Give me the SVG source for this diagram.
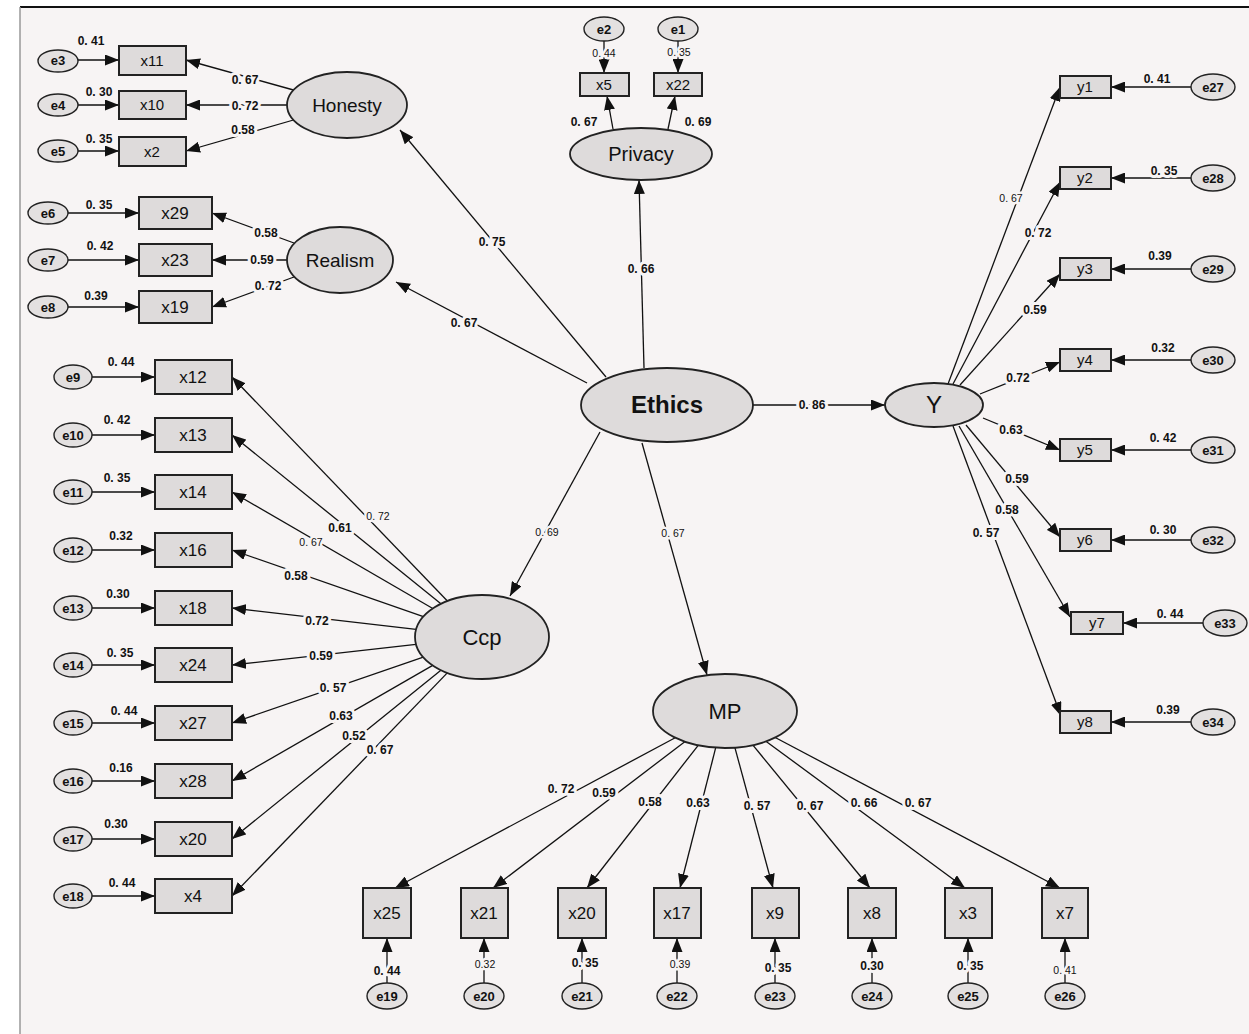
<svg xmlns="http://www.w3.org/2000/svg" width="1249" height="1034" viewBox="0 0 1249 1034">
<defs>
<marker id="ar" markerUnits="userSpaceOnUse" markerWidth="14" markerHeight="11" refX="14" refY="5.5" orient="auto">
<path d="M0,0 L14,5.5 L0,11 z" fill="#111"/>
</marker>
<style>
.lat{fill:#dedbdb;stroke:#222;stroke-width:1.8}
.obs{fill:#dedbdb;stroke:#222;stroke-width:2}
.err{fill:#e3e0e0;stroke:#222;stroke-width:1.4}
.c line{stroke:#111;stroke-width:1.3;marker-end:url(#ar)}
.t{font-family:"Liberation Sans",Arial,sans-serif;fill:#111;text-anchor:middle}
.lt{font-size:19px}
.ot{font-size:15px}
.et{font-size:13px;font-weight:bold}
.n{font-family:"Liberation Sans",Arial,sans-serif;font-size:12px;font-weight:bold;fill:#111;text-anchor:middle;stroke:#f7f4f4;stroke-width:6;stroke-linejoin:round;paint-order:stroke}
.s{font-size:10.5px;font-weight:normal;stroke-width:5}
</style>
</defs>
<rect x="0" y="0" width="1249" height="1034" fill="#ffffff"/>
<rect x="20" y="7" width="1229" height="1027" fill="#f7f4f4"/>
<line x1="20" y1="7" x2="1249" y2="7" stroke="#111" stroke-width="2"/>
<line x1="20" y1="7" x2="20" y2="1034" stroke="#999" stroke-width="1.5"/>

<g id="connectors" class="c">
<line x1="78" y1="60" x2="119" y2="60"/>
<line x1="78" y1="105" x2="119" y2="105"/>
<line x1="78" y1="151" x2="119" y2="151"/>
<line x1="293.5" y1="90" x2="186" y2="60"/>
<line x1="287" y1="105" x2="186" y2="105"/>
<line x1="293.5" y1="120" x2="186" y2="151"/>
<line x1="68" y1="213" x2="139" y2="213"/>
<line x1="68" y1="260" x2="139" y2="260"/>
<line x1="68" y1="307" x2="139" y2="307"/>
<line x1="294" y1="243" x2="212" y2="213"/>
<line x1="287" y1="260" x2="212" y2="260"/>
<line x1="294" y1="277" x2="212" y2="307"/>
<line x1="604" y1="41" x2="604" y2="73"/>
<line x1="678" y1="41" x2="678" y2="73"/>
<line x1="613" y1="129" x2="607" y2="96"/>
<line x1="668" y1="129" x2="675" y2="96"/>
<line x1="606" y1="377" x2="400" y2="130"/>
<line x1="587" y1="383" x2="396" y2="282"/>
<line x1="644" y1="368" x2="639" y2="180"/>
<line x1="600" y1="432" x2="510" y2="596"/>
<line x1="642" y1="443" x2="707" y2="675"/>
<line x1="753" y1="405" x2="885" y2="405"/>
<line x1="948" y1="384" x2="1060" y2="87"/>
<line x1="953" y1="384" x2="1060" y2="182"/>
<line x1="960" y1="385" x2="1060" y2="274"/>
<line x1="980" y1="394" x2="1060" y2="362"/>
<line x1="983" y1="418" x2="1060" y2="450"/>
<line x1="966" y1="425" x2="1060" y2="537"/>
<line x1="959" y1="426" x2="1070" y2="617"/>
<line x1="953" y1="426" x2="1061" y2="716"/>
<line x1="1191" y1="87" x2="1111" y2="87"/>
<line x1="1191" y1="178" x2="1111" y2="178"/>
<line x1="1191" y1="269" x2="1111" y2="269"/>
<line x1="1191" y1="360" x2="1111" y2="360"/>
<line x1="1191" y1="450" x2="1111" y2="450"/>
<line x1="1191" y1="540" x2="1111" y2="540"/>
<line x1="1203" y1="623" x2="1123" y2="623"/>
<line x1="1191" y1="722" x2="1111" y2="722"/>
<line x1="447.4" y1="601" x2="232" y2="377"/>
<line x1="440.9" y1="603.8" x2="232" y2="435"/>
<line x1="432.8" y1="608.5" x2="232" y2="492"/>
<line x1="423.4" y1="616.6" x2="232" y2="550"/>
<line x1="416.1" y1="629.4" x2="232" y2="608"/>
<line x1="416" y1="644.4" x2="232" y2="665"/>
<line x1="423.3" y1="657.2" x2="232" y2="723"/>
<line x1="432.7" y1="665.4" x2="232" y2="781"/>
<line x1="440.9" y1="670.2" x2="232" y2="839"/>
<line x1="447.3" y1="672.9" x2="232" y2="896"/>
<line x1="92" y1="377" x2="155" y2="377"/>
<line x1="92" y1="435" x2="155" y2="435"/>
<line x1="92" y1="492" x2="155" y2="492"/>
<line x1="92" y1="550" x2="155" y2="550"/>
<line x1="92" y1="608" x2="155" y2="608"/>
<line x1="92" y1="665" x2="155" y2="665"/>
<line x1="92" y1="723" x2="155" y2="723"/>
<line x1="92" y1="781" x2="155" y2="781"/>
<line x1="92" y1="839" x2="155" y2="839"/>
<line x1="92" y1="896" x2="155" y2="896"/>
<line x1="675.2" y1="737.7" x2="395" y2="888"/>
<line x1="684.8" y1="741.7" x2="493" y2="888"/>
<line x1="698.2" y1="745.3" x2="587" y2="888"/>
<line x1="715.7" y1="747.7" x2="680" y2="888"/>
<line x1="734.9" y1="747.6" x2="773" y2="888"/>
<line x1="752.9" y1="745.1" x2="870" y2="888"/>
<line x1="766.2" y1="741.4" x2="965" y2="888"/>
<line x1="775.2" y1="737.5" x2="1060" y2="888"/>
<line x1="387" y1="983" x2="387" y2="938"/>
<line x1="484" y1="983" x2="484" y2="938"/>
<line x1="582" y1="983" x2="582" y2="938"/>
<line x1="677" y1="983" x2="677" y2="938"/>
<line x1="775" y1="983" x2="775" y2="938"/>
<line x1="872" y1="983" x2="872" y2="938"/>
<line x1="968" y1="983" x2="968" y2="938"/>
<line x1="1065" y1="983" x2="1065" y2="938"/>
</g>

<g id="labels">
<text class="n" x="91" y="45">0. 41</text>
<text class="n" x="99" y="96">0. 30</text>
<text class="n" x="99" y="143">0. 35</text>
<text class="n" x="245" y="84">0. 67</text>
<text class="n" x="245" y="110">0. 72</text>
<text class="n" x="243" y="134">0.58</text>
<text class="n" x="99" y="209">0. 35</text>
<text class="n" x="100" y="250">0. 42</text>
<text class="n" x="96" y="300">0.39</text>
<text class="n" x="266" y="237">0.58</text>
<text class="n" x="262" y="264">0.59</text>
<text class="n" x="268" y="290">0. 72</text>
<text class="n s" x="604" y="57">0. 44</text>
<text class="n s" x="679" y="56">0. 35</text>
<text class="n" x="584" y="126">0. 67</text>
<text class="n" x="698" y="126">0. 69</text>
<text class="n" x="492" y="246">0. 75</text>
<text class="n" x="464" y="327">0. 67</text>
<text class="n" x="641" y="273">0. 66</text>
<text class="n s" x="547" y="536">0. 69</text>
<text class="n s" x="673" y="537">0. 67</text>
<text class="n" x="812" y="409">0. 86</text>
<text class="n s" x="1011" y="202">0. 67</text>
<text class="n" x="1038" y="237">0. 72</text>
<text class="n" x="1035" y="314">0.59</text>
<text class="n" x="1018" y="382">0.72</text>
<text class="n" x="1011" y="434">0.63</text>
<text class="n" x="1017" y="483">0.59</text>
<text class="n" x="1007" y="514">0.58</text>
<text class="n" x="986" y="537">0. 57</text>
<text class="n" x="1157" y="83">0. 41</text>
<text class="n" x="1164" y="175">0. 35</text>
<text class="n" x="1160" y="260">0.39</text>
<text class="n" x="1163" y="352">0.32</text>
<text class="n" x="1163" y="442">0. 42</text>
<text class="n" x="1163" y="534">0. 30</text>
<text class="n" x="1170" y="618">0. 44</text>
<text class="n" x="1168" y="714">0.39</text>
<text class="n" x="121" y="366">0. 44</text>
<text class="n" x="117" y="424">0. 42</text>
<text class="n" x="117" y="482">0. 35</text>
<text class="n" x="121" y="540">0.32</text>
<text class="n" x="118" y="598">0.30</text>
<text class="n" x="120" y="657">0. 35</text>
<text class="n" x="124" y="715">0. 44</text>
<text class="n" x="121" y="772">0.16</text>
<text class="n" x="116" y="828">0.30</text>
<text class="n" x="122" y="887">0. 44</text>
<text class="n s" x="378" y="520">0. 72</text>
<text class="n" x="340" y="532">0.61</text>
<text class="n s" x="311" y="546">0. 67</text>
<text class="n" x="296" y="580">0.58</text>
<text class="n" x="317" y="625">0.72</text>
<text class="n" x="321" y="660">0.59</text>
<text class="n" x="333" y="692">0. 57</text>
<text class="n" x="341" y="720">0.63</text>
<text class="n" x="354" y="740">0.52</text>
<text class="n" x="380" y="754">0. 67</text>
<text class="n" x="561" y="793">0. 72</text>
<text class="n" x="604" y="797">0.59</text>
<text class="n" x="650" y="806">0.58</text>
<text class="n" x="698" y="807">0.63</text>
<text class="n" x="757" y="810">0. 57</text>
<text class="n" x="810" y="810">0. 67</text>
<text class="n" x="864" y="807">0. 66</text>
<text class="n" x="918" y="807">0. 67</text>
<text class="n" x="387" y="975">0. 44</text>
<text class="n s" x="485" y="968">0.32</text>
<text class="n" x="585" y="967">0. 35</text>
<text class="n s" x="680" y="968">0.39</text>
<text class="n" x="778" y="972">0. 35</text>
<text class="n" x="872" y="970">0.30</text>
<text class="n" x="970" y="970">0. 35</text>
<text class="n s" x="1065" y="974">0. 41</text>
</g>

<g id="Honesty"><ellipse class="lat" cx="347" cy="105" rx="60" ry="33"/><text class="t lt" x="347" y="112">Honesty</text></g>
<g id="Realism"><ellipse class="lat" cx="340" cy="260" rx="53" ry="33"/><text class="t lt" x="340" y="267">Realism</text></g>
<g id="Privacy"><ellipse class="lat" cx="641" cy="154" rx="71" ry="26"/><text class="t" style="font-size:20px" x="641" y="161">Privacy</text></g>
<g id="Ethics"><ellipse class="lat" cx="667" cy="405" rx="86" ry="37"/><text class="t" style="font-size:24px;font-weight:bold" x="667" y="413">Ethics</text></g>
<g id="Y"><ellipse class="lat" cx="934" cy="405" rx="49" ry="22"/><text class="t" style="font-size:24px" x="934" y="413">Y</text></g>
<g id="Ccp"><ellipse class="lat" cx="482" cy="637" rx="67" ry="42"/><text class="t" style="font-size:22px" x="482" y="645">Ccp</text></g>
<g id="MP"><ellipse class="lat" cx="725" cy="711" rx="72" ry="37"/><text class="t" style="font-size:22px" x="725" y="719">MP</text></g>

<g id="x11"><rect class="obs" x="119" y="46" width="67" height="29"/><text class="t ot" x="152" y="66">x11</text></g>
<g id="x10"><rect class="obs" x="119" y="91" width="67" height="28"/><text class="t ot" x="152" y="110">x10</text></g>
<g id="x2"><rect class="obs" x="119" y="137" width="67" height="29"/><text class="t ot" x="152" y="157">x2</text></g>
<g id="x29"><rect class="obs" x="139" y="197" width="73" height="32"/><text class="t" style="font-size:17px" x="175" y="219">x29</text></g>
<g id="x23"><rect class="obs" x="139" y="244" width="73" height="32"/><text class="t" style="font-size:17px" x="175" y="266">x23</text></g>
<g id="x19"><rect class="obs" x="139" y="291" width="73" height="32"/><text class="t" style="font-size:17px" x="175" y="313">x19</text></g>
<g id="x5"><rect class="obs" x="580" y="73" width="49" height="23"/><text class="t ot" x="604" y="90">x5</text></g>
<g id="x22"><rect class="obs" x="654" y="73" width="48" height="23"/><text class="t ot" x="678" y="90">x22</text></g>

<g id="y1"><rect class="obs" x="1060" y="76" width="51" height="22"/><text class="t ot" x="1085" y="92">y1</text></g>
<g id="y2"><rect class="obs" x="1060" y="167" width="51" height="22"/><text class="t ot" x="1085" y="183">y2</text></g>
<g id="y3"><rect class="obs" x="1060" y="258" width="51" height="22"/><text class="t ot" x="1085" y="274">y3</text></g>
<g id="y4"><rect class="obs" x="1060" y="349" width="51" height="22"/><text class="t ot" x="1085" y="365">y4</text></g>
<g id="y5"><rect class="obs" x="1060" y="439" width="51" height="22"/><text class="t ot" x="1085" y="455">y5</text></g>
<g id="y6"><rect class="obs" x="1060" y="529" width="51" height="22"/><text class="t ot" x="1085" y="545">y6</text></g>
<g id="y7"><rect class="obs" x="1071" y="612" width="52" height="22"/><text class="t ot" x="1097" y="628">y7</text></g>
<g id="y8"><rect class="obs" x="1060" y="711" width="51" height="22"/><text class="t ot" x="1085" y="727">y8</text></g>

<g id="x12"><rect class="obs" x="155" y="360" width="77" height="34"/><text class="t" style="font-size:17px" x="193" y="383">x12</text></g>
<g id="x13"><rect class="obs" x="155" y="418" width="77" height="34"/><text class="t" style="font-size:17px" x="193" y="441">x13</text></g>
<g id="x14"><rect class="obs" x="155" y="475" width="77" height="34"/><text class="t" style="font-size:17px" x="193" y="498">x14</text></g>
<g id="x16"><rect class="obs" x="155" y="533" width="77" height="34"/><text class="t" style="font-size:17px" x="193" y="556">x16</text></g>
<g id="x18"><rect class="obs" x="155" y="591" width="77" height="34"/><text class="t" style="font-size:17px" x="193" y="614">x18</text></g>
<g id="x24"><rect class="obs" x="155" y="648" width="77" height="34"/><text class="t" style="font-size:17px" x="193" y="671">x24</text></g>
<g id="x27"><rect class="obs" x="155" y="706" width="77" height="34"/><text class="t" style="font-size:17px" x="193" y="729">x27</text></g>
<g id="x28"><rect class="obs" x="155" y="764" width="77" height="34"/><text class="t" style="font-size:17px" x="193" y="787">x28</text></g>
<g id="x20a"><rect class="obs" x="155" y="822" width="77" height="34"/><text class="t" style="font-size:17px" x="193" y="845">x20</text></g>
<g id="x4"><rect class="obs" x="155" y="879" width="77" height="34"/><text class="t" style="font-size:17px" x="193" y="902">x4</text></g>

<g id="x25"><rect class="obs" x="363" y="888" width="48" height="50"/><text class="t" style="font-size:17px" x="387" y="919">x25</text></g>
<g id="x21"><rect class="obs" x="461" y="888" width="47" height="50"/><text class="t" style="font-size:17px" x="484" y="919">x21</text></g>
<g id="x20b"><rect class="obs" x="558" y="888" width="48" height="50"/><text class="t" style="font-size:17px" x="582" y="919">x20</text></g>
<g id="x17"><rect class="obs" x="654" y="888" width="47" height="50"/><text class="t" style="font-size:17px" x="677" y="919">x17</text></g>
<g id="x9"><rect class="obs" x="752" y="888" width="47" height="50"/><text class="t" style="font-size:17px" x="775" y="919">x9</text></g>
<g id="x8"><rect class="obs" x="848" y="888" width="48" height="50"/><text class="t" style="font-size:17px" x="872" y="919">x8</text></g>
<g id="x3"><rect class="obs" x="945" y="888" width="47" height="50"/><text class="t" style="font-size:17px" x="968" y="919">x3</text></g>
<g id="x7"><rect class="obs" x="1042" y="888" width="46" height="50"/><text class="t" style="font-size:17px" x="1065" y="919">x7</text></g>

<g id="e3"><ellipse class="err" cx="58" cy="61" rx="20" ry="11"/><text class="t et" x="58" y="65">e3</text></g>
<g id="e4"><ellipse class="err" cx="58" cy="105" rx="20" ry="11"/><text class="t et" x="58" y="110">e4</text></g>
<g id="e5"><ellipse class="err" cx="58" cy="151" rx="20" ry="11"/><text class="t et" x="58" y="156">e5</text></g>
<g id="e6"><ellipse class="err" cx="48" cy="213" rx="20" ry="11"/><text class="t et" x="48" y="218">e6</text></g>
<g id="e7"><ellipse class="err" cx="48" cy="260" rx="20" ry="11"/><text class="t et" x="48" y="265">e7</text></g>
<g id="e8"><ellipse class="err" cx="48" cy="307" rx="20" ry="11"/><text class="t et" x="48" y="312">e8</text></g>
<g id="e2"><ellipse class="err" cx="604" cy="29" rx="20" ry="12"/><text class="t et" x="604" y="34">e2</text></g>
<g id="e1"><ellipse class="err" cx="678" cy="29" rx="20" ry="12"/><text class="t et" x="678" y="34">e1</text></g>

<g id="e27"><ellipse class="err" cx="1213" cy="87" rx="22" ry="13"/><text class="t et" x="1213" y="92">e27</text></g>
<g id="e28"><ellipse class="err" cx="1213" cy="178" rx="22" ry="13"/><text class="t et" x="1213" y="183">e28</text></g>
<g id="e29"><ellipse class="err" cx="1213" cy="269" rx="22" ry="13"/><text class="t et" x="1213" y="274">e29</text></g>
<g id="e30"><ellipse class="err" cx="1213" cy="360" rx="22" ry="13"/><text class="t et" x="1213" y="365">e30</text></g>
<g id="e31"><ellipse class="err" cx="1213" cy="450" rx="22" ry="13"/><text class="t et" x="1213" y="455">e31</text></g>
<g id="e32"><ellipse class="err" cx="1213" cy="540" rx="22" ry="13"/><text class="t et" x="1213" y="545">e32</text></g>
<g id="e33"><ellipse class="err" cx="1225" cy="623" rx="22" ry="13"/><text class="t et" x="1225" y="628">e33</text></g>
<g id="e34"><ellipse class="err" cx="1213" cy="722" rx="22" ry="13"/><text class="t et" x="1213" y="727">e34</text></g>

<g id="e9"><ellipse class="err" cx="73" cy="377" rx="19" ry="12"/><text class="t et" x="73" y="382">e9</text></g>
<g id="e10"><ellipse class="err" cx="73" cy="435" rx="19" ry="12"/><text class="t et" x="73" y="440">e10</text></g>
<g id="e11"><ellipse class="err" cx="73" cy="492" rx="19" ry="12"/><text class="t et" x="73" y="497">e11</text></g>
<g id="e12"><ellipse class="err" cx="73" cy="550" rx="19" ry="12"/><text class="t et" x="73" y="555">e12</text></g>
<g id="e13"><ellipse class="err" cx="73" cy="608" rx="19" ry="12"/><text class="t et" x="73" y="613">e13</text></g>
<g id="e14"><ellipse class="err" cx="73" cy="665" rx="19" ry="12"/><text class="t et" x="73" y="670">e14</text></g>
<g id="e15"><ellipse class="err" cx="73" cy="723" rx="19" ry="12"/><text class="t et" x="73" y="728">e15</text></g>
<g id="e16"><ellipse class="err" cx="73" cy="781" rx="19" ry="12"/><text class="t et" x="73" y="786">e16</text></g>
<g id="e17"><ellipse class="err" cx="73" cy="839" rx="19" ry="12"/><text class="t et" x="73" y="844">e17</text></g>
<g id="e18"><ellipse class="err" cx="73" cy="896" rx="19" ry="12"/><text class="t et" x="73" y="901">e18</text></g>

<g id="e19"><ellipse class="err" cx="387" cy="996" rx="20" ry="13"/><text class="t et" x="387" y="1001">e19</text></g>
<g id="e20"><ellipse class="err" cx="484" cy="996" rx="20" ry="13"/><text class="t et" x="484" y="1001">e20</text></g>
<g id="e21"><ellipse class="err" cx="582" cy="996" rx="20" ry="13"/><text class="t et" x="582" y="1001">e21</text></g>
<g id="e22"><ellipse class="err" cx="677" cy="996" rx="20" ry="13"/><text class="t et" x="677" y="1001">e22</text></g>
<g id="e23"><ellipse class="err" cx="775" cy="996" rx="20" ry="13"/><text class="t et" x="775" y="1001">e23</text></g>
<g id="e24"><ellipse class="err" cx="872" cy="996" rx="20" ry="13"/><text class="t et" x="872" y="1001">e24</text></g>
<g id="e25"><ellipse class="err" cx="968" cy="996" rx="20" ry="13"/><text class="t et" x="968" y="1001">e25</text></g>
<g id="e26"><ellipse class="err" cx="1065" cy="996" rx="20" ry="13"/><text class="t et" x="1065" y="1001">e26</text></g>
</svg>
